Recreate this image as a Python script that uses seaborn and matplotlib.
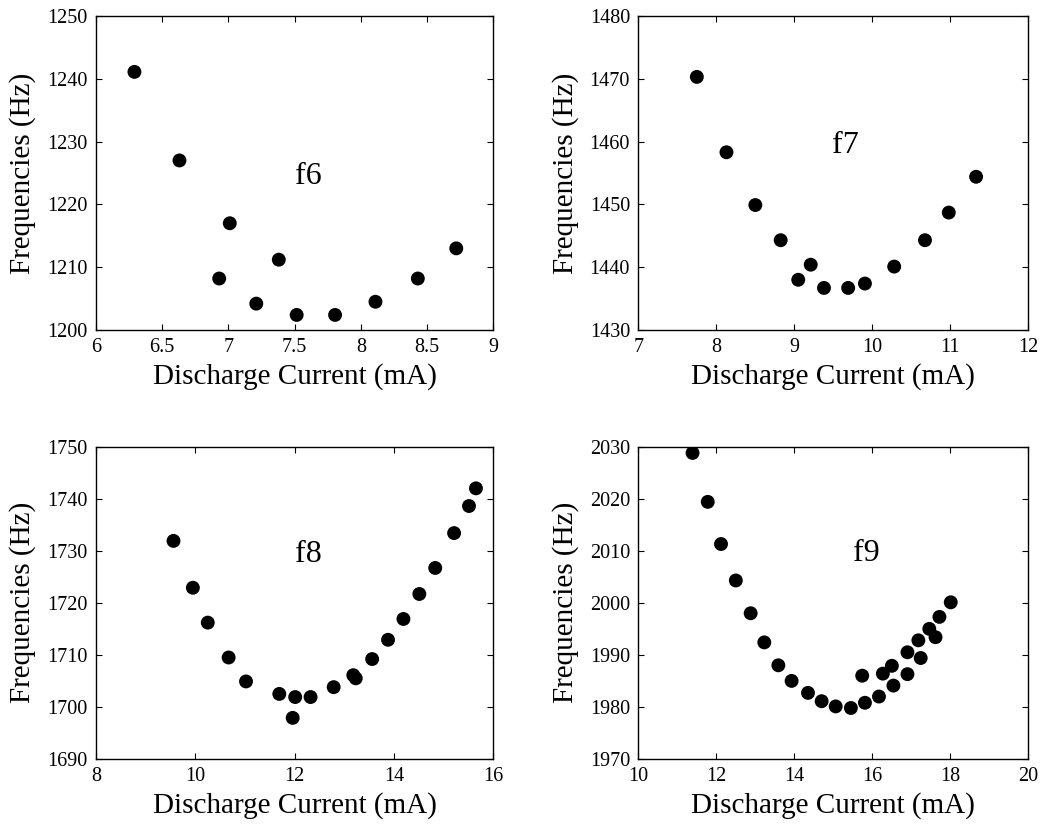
import numpy as np
import pandas as pd
import matplotlib
matplotlib.use("Agg")
import matplotlib.pyplot as plt
import seaborn as sns

# ---- data ----
f6_current = [6.29, 6.63, 6.93, 7.01, 7.21, 7.38, 7.515, 7.805, 8.11, 8.43, 8.72]
f6_freq = [1241.1, 1227.0, 1208.2, 1217.0, 1204.2, 1211.2, 1202.4, 1202.4, 1204.5, 1208.2, 1213.0]

f7_current = [7.75, 8.13, 8.50, 8.825, 9.05, 9.21, 9.38, 9.69, 9.905, 10.28, 10.675, 10.98, 11.33]
f7_freq = [1470.3, 1458.3, 1449.9, 1444.3, 1438.0, 1440.4, 1436.7, 1436.7, 1437.4, 1440.1, 1444.3, 1448.7, 1454.4]

f8_current = [9.56, 9.95, 10.25, 10.67, 11.02, 11.69, 12.01, 11.96, 12.32, 12.785, 13.18, 13.23,
              13.56, 13.88, 14.19, 14.51, 14.83, 15.21, 15.51, 15.65]
f8_freq = [1731.9, 1722.9, 1716.2, 1709.5, 1704.9, 1702.5, 1701.9, 1697.9, 1701.9, 1703.8, 1706.1, 1705.5,
           1709.2, 1712.9, 1716.9, 1721.7, 1726.7, 1733.4, 1738.6, 1742.0]

f9_current = [11.39, 11.78, 12.12, 12.50, 12.88, 13.23, 13.59, 13.93, 14.35, 14.70, 15.06, 15.45,
              15.81, 15.74, 16.17, 16.27, 16.50, 16.54, 16.90, 16.90, 17.18, 17.24, 17.46, 17.62,
              17.72, 18.01]
f9_freq = [2028.8, 2019.4, 2011.3, 2004.3, 1998.0, 1992.4, 1988.0, 1985.0, 1982.7, 1981.1, 1980.1, 1979.8,
           1980.8, 1986.0, 1982.0, 1986.4, 1987.9, 1984.1, 1986.3, 1990.5, 1992.8, 1989.4, 1995.0, 1993.4,
           1997.3, 2000.1]

panel_labels = ["f6", "f7", "f8", "f9"]
x_limits = [(6, 9), (7, 12), (8, 16), (10, 20)]
y_limits = [(1200, 1250), (1430, 1480), (1690, 1750), (1970, 2030)]
x_ticks = [[6, 6.5, 7, 7.5, 8, 8.5, 9], [7, 8, 9, 10, 11, 12], [8, 10, 12, 14, 16], [10, 12, 14, 16, 18, 20]]
y_ticks = [[1200, 1210, 1220, 1230, 1240, 1250], [1430, 1440, 1450, 1460, 1470, 1480],
           [1690, 1700, 1710, 1720, 1730, 1740, 1750], [1970, 1980, 1990, 2000, 2010, 2020, 2030]]
label_pos = [(7.60, 1224.4), (9.66, 1459.4), (12.27, 1729.2), (15.85, 2009.5)]

sns.set_style("ticks")
plt.rcParams['font.family'] = ['Liberation Serif', 'DejaVu Serif']
plt.rcParams['text.color'] = 'black'
plt.rcParams['axes.labelcolor'] = 'black'
plt.rcParams['xtick.color'] = 'black'
plt.rcParams['ytick.color'] = 'black'

fig = plt.figure(figsize=(10.53, 8.24), dpi=100)
rects = [
    [0.0912, 0.5995, 0.3773, 0.3811],
    [0.6062, 0.5995, 0.3704, 0.3811],
    [0.0912, 0.0789, 0.3773, 0.3790],
    [0.6062, 0.0789, 0.3704, 0.3790],
]
datasets = [(f6_current, f6_freq), (f7_current, f7_freq), (f8_current, f8_freq), (f9_current, f9_freq)]

for i, (xs, ys) in enumerate(datasets):
    ax = fig.add_axes(rects[i])
    df = pd.DataFrame({"current": xs, "freq": ys})
    sns.scatterplot(data=df, x="current", y="freq", ax=ax, color="black", s=100,
                    edgecolor="none", linewidth=0)
    ax.set_xlim(*x_limits[i])
    ax.set_ylim(*y_limits[i])
    ax.set_xticks(x_ticks[i])
    ax.set_yticks(y_ticks[i])
    ax.set_xticklabels([("%g" % v) for v in x_ticks[i]])
    ax.set_yticklabels([("%g" % v) for v in y_ticks[i]])
    ax.tick_params(direction="in", length=4, width=0.8, labelsize=14.5,
                   top=True, right=True, colors="black", labelcolor="black")
    ax.tick_params(axis="x", pad=6)
    ax.tick_params(axis="y", pad=6)
    for sp in ax.spines.values():
        sp.set_visible(True)
        sp.set_linewidth(1.0)
        sp.set_color("black")
    ax.set_xlabel("Discharge Current (mA)", fontsize=21, labelpad=4, color="black")
    ax.set_ylabel("Frequencies (Hz)", fontsize=21, labelpad=8, color="black")
    ax.text(label_pos[i][0], label_pos[i][1], panel_labels[i], fontsize=23,
            ha="center", va="center", color="black")

fig.savefig("out.png", dpi=100)
